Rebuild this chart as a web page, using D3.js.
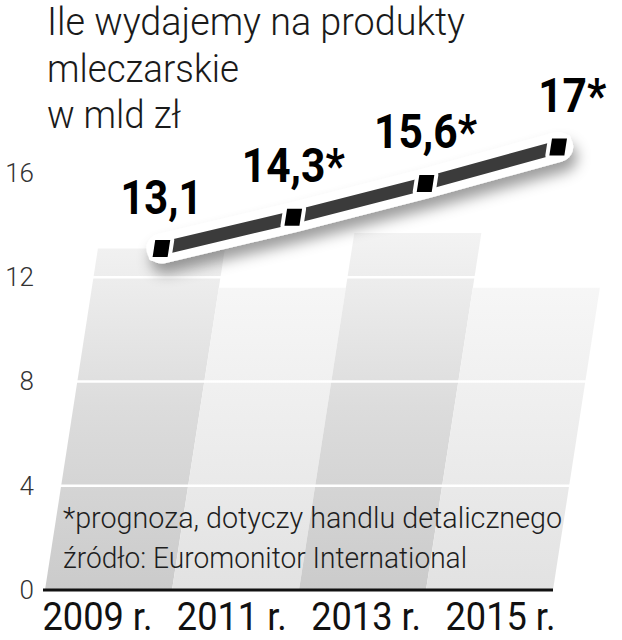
<!DOCTYPE html>
<html>
<head>
<meta charset="utf-8">
<script src="https://cdn.jsdelivr.net/npm/d3@7"></script>
<style>
  html, body { margin: 0; padding: 0; background: #fff; }
  svg { display: block; }
</style>
</head>
<body>
<div id="chart"></div>
<script>
// ---- data ----
const years = ["2009 r.", "2011 r.", "2013 r.", "2015 r."];
const values = [13.1, 14.3, 15.6, 17];
const valueLabels = ["13,1", "14,3*", "15,6*", "17*"];
const backgroundHeights = [13.1, 11.6, 13.7, 11.6];
const yTicks = [0, 4, 8, 12, 16];
const titleLines = ["Ile wydajemy na produkty", "mleczarskie", "w mld zł"];
const noteLines = ["*prognoza, dotyczy handlu detalicznego", "źródło: Euromonitor International"];

// ---- layout ----
const W = 622, H = 640;
const svg = d3.select("#chart").append("svg").attr("width", W).attr("height", H);
const defs = svg.append("defs");

const y = d3.scaleLinear().domain([0, 16]).range([590, 173]);
const x = d3.scaleBand().domain(years).range([45, 553]).padding(0);
const xl = d3.scalePoint().domain(years).range([97, 500]);
const k = 0.155; // skew of the perspective
const sx = v => k * (y(0) - y(v));
const px = (i, v) => x(years[i]) + x.bandwidth() / 2 + sx(v);

// gradients
const gDark = defs.append("linearGradient").attr("id", "gDark")
  .attr("gradientUnits", "userSpaceOnUse").attr("x1", 0).attr("x2", 0).attr("y1", y(0)).attr("y2", y(14));
gDark.append("stop").attr("offset", 0).attr("stop-color", "#cbcbcb");
gDark.append("stop").attr("offset", 0.5).attr("stop-color", "#dcdcdc");
gDark.append("stop").attr("offset", 1).attr("stop-color", "#f4f4f4");
const gLight = defs.append("linearGradient").attr("id", "gLight")
  .attr("gradientUnits", "userSpaceOnUse").attr("x1", 0).attr("x2", 0).attr("y1", y(0)).attr("y2", y(12));
gLight.append("stop").attr("offset", 0).attr("stop-color", "#e2e2e2");
gLight.append("stop").attr("offset", 0.5).attr("stop-color", "#ededed");
gLight.append("stop").attr("offset", 1).attr("stop-color", "#f7f7f7");

const shadow = defs.append("filter").attr("id", "shadow")
  .attr("x", "-20%").attr("y", "-60%").attr("width", "140%").attr("height", "240%");
shadow.append("feDropShadow").attr("dx", 4).attr("dy", 10).attr("stdDeviation", 7)
  .attr("flood-color", "#000").attr("flood-opacity", 0.38);

// background skewed columns
svg.append("g").selectAll("path").data(backgroundHeights).join("path")
  .attr("d", (h, i) => {
    const x0 = x(years[i]), x1 = x0 + x.bandwidth();
    const y0 = y(0), yt = y(h), s = sx(h);
    return `M${x0},${y0}L${x1},${y0}L${x1 + s},${yt}L${x0 + s},${yt}Z`;
  })
  .attr("fill", (h, i) => i % 2 === 0 ? "url(#gDark)" : "url(#gLight)");

// white gridlines
svg.append("g").selectAll("line").data(yTicks.filter(t => t > 0)).join("line")
  .attr("x1", t => x.range()[0] + sx(t) - 2)
  .attr("x2", t => x.range()[1] + sx(t) + 2)
  .attr("y1", t => y(t)).attr("y2", t => y(t))
  .attr("stroke", "#fff").attr("stroke-width", 2.5);

// baseline
svg.append("line")
  .attr("x1", 43).attr("x2", 553).attr("y1", y(0)).attr("y2", y(0))
  .attr("stroke", "#111").attr("stroke-width", 3);

// y axis
const yAxis = svg.append("g").attr("transform", `translate(${x.range()[0]},0)`)
  .call(d3.axisLeft(y).tickValues(yTicks).tickSize(0).tickPadding(11));
yAxis.select(".domain").remove();
yAxis.selectAll("text").attr("font-family", "Roboto").attr("font-weight", 300)
  .attr("font-size", 26).attr("fill", "#333");

// x axis labels
const xAxis = svg.append("g").attr("transform", `translate(0,${y(0)})`)
  .call(d3.axisBottom(xl).tickSize(0).tickPadding(12));
xAxis.select(".domain").remove();
xAxis.selectAll("text").attr("font-family", "Roboto").attr("font-weight", 400)
  .attr("font-size", 39).attr("fill", "#111")
  .attr("textLength", 110).attr("lengthAdjust", "spacingAndGlyphs");

// line
const pts = values.map((v, i) => [px(i, v), y(v)]);
const line = d3.line();
svg.append("path").attr("d", line(pts))
  .attr("fill", "none").attr("stroke", "#fff").attr("stroke-width", 30)
  .attr("stroke-linecap", "round").attr("stroke-linejoin", "round")
  .attr("filter", "url(#shadow)");
svg.append("path").attr("d", line(pts))
  .attr("fill", "none").attr("stroke", "#3b3b3b").attr("stroke-width", 13)
  .attr("stroke-linecap", "butt");

// markers (skewed squares) with white gap around
const mw = 7.5, mh = 8.5;
const markerPath = ([cx, cy]) =>
  `M${cx - mw + k * mh},${cy - mh}L${cx + mw + k * mh},${cy - mh}L${cx + mw - k * mh},${cy + mh}L${cx - mw - k * mh},${cy + mh}Z`;
svg.append("g").selectAll("path").data(pts).join("path")
  .attr("d", markerPath).attr("fill", "#fff").attr("stroke", "#fff").attr("stroke-width", 8)
  .attr("stroke-linejoin", "round");
svg.append("g").selectAll("path").data(pts).join("path")
  .attr("d", markerPath).attr("fill", "#000");

// value labels
const labelWidths = [82, 103, 103, 68];
svg.append("g").selectAll("text").data(valueLabels).join("text")
  .attr("x", (d, i) => pts[i][0] + (i === valueLabels.length - 1 ? 14 : 0))
  .attr("y", (d, i) => pts[i][1] - 35)
  .attr("text-anchor", "middle")
  .attr("font-family", "Roboto").attr("font-weight", 700).attr("font-size", 48)
  .attr("fill", "#000")
  .attr("textLength", (d, i) => labelWidths[i]).attr("lengthAdjust", "spacingAndGlyphs")
  .text(d => d);

// title
const titleWidths = [418, 192, 134];
svg.append("g").selectAll("text").data(titleLines).join("text")
  .attr("x", 47).attr("y", (d, i) => 35 + i * 46.5)
  .attr("font-family", "Roboto").attr("font-weight", 300).attr("font-size", 39)
  .attr("fill", "#1a1a1a")
  .attr("textLength", (d, i) => titleWidths[i]).attr("lengthAdjust", "spacingAndGlyphs")
  .text(d => d);

// notes
const noteWidths = [499, 404];
svg.append("g").selectAll("text").data(noteLines).join("text")
  .attr("x", 63).attr("y", (d, i) => 528 + i * 40)
  .attr("font-family", "Roboto").attr("font-weight", 300).attr("font-size", 30)
  .attr("fill", "#1e1e1e")
  .attr("textLength", (d, i) => noteWidths[i]).attr("lengthAdjust", "spacingAndGlyphs")
  .text(d => d);
</script>
</body>
</html>
